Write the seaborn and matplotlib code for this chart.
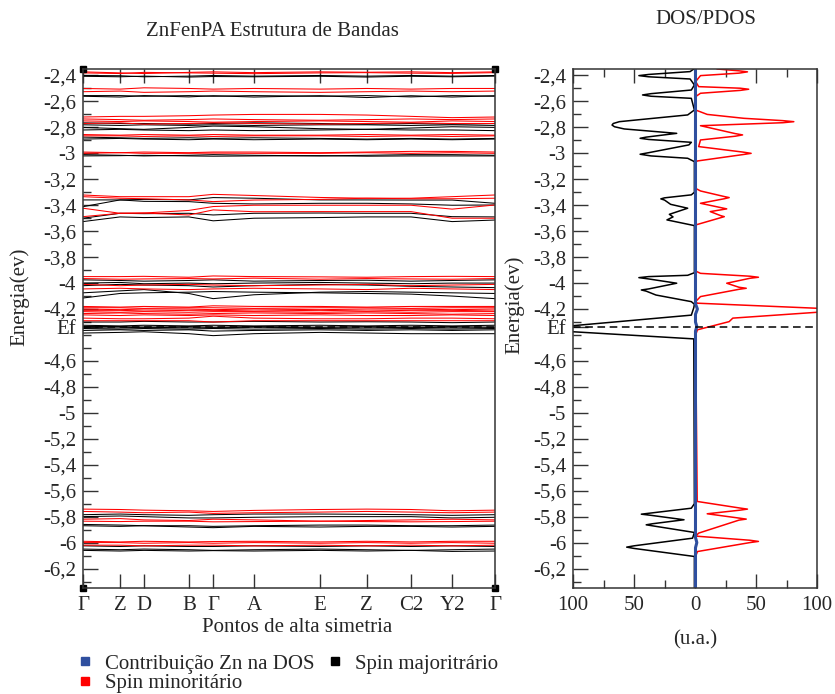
import matplotlib
matplotlib.use("Agg")
import matplotlib.pyplot as plt
from matplotlib.lines import Line2D
from matplotlib.ticker import FixedLocator, MultipleLocator
import pandas as pd
import seaborn as sns

# ---------------------------------------------------------------- data
K_LABELS = ["Γ", "Z", "D", "B", "Γ", "A", "E", "Z", "C2", "Y2", "Γ"]
K_POS = [0.0, 0.090, 0.148, 0.257, 0.316, 0.415, 0.575, 0.689, 0.796, 0.896, 1.0]
E_FERMI = -4.335

# band energies (eV) at the high-symmetry points; UP = spin majority, DN = spin minority
UP_BANDS_24 = [
    [-2.400, -2.402, -2.410, -2.405, -2.400, -2.405, -2.400, -2.405, -2.400, -2.405, -2.400],
    [-2.406, -2.410, -2.405, -2.412, -2.408, -2.410, -2.406, -2.412, -2.406, -2.410, -2.405],
    [-2.555, -2.555, -2.560, -2.555, -2.560, -2.555, -2.560, -2.555, -2.565, -2.555, -2.560],
    [-2.560, -2.566, -2.555, -2.565, -2.556, -2.566, -2.556, -2.570, -2.556, -2.566, -2.556],
]
DN_BANDS_24 = [
    [-2.372, -2.380, -2.385, -2.376, -2.372, -2.378, -2.372, -2.375, -2.372, -2.378, -2.372],
    [-2.380, -2.385, -2.376, -2.380, -2.382, -2.386, -2.380, -2.378, -2.382, -2.384, -2.378],
    [-2.500, -2.505, -2.495, -2.500, -2.505, -2.500, -2.505, -2.500, -2.505, -2.500, -2.500],
    [-2.525, -2.520, -2.530, -2.525, -2.520, -2.525, -2.530, -2.525, -2.520, -2.525, -2.520],
]
UP_BANDS_28 = [
    [-2.765, -2.770, -2.770, -2.775, -2.770, -2.765, -2.770, -2.775, -2.770, -2.775, -2.770],
    [-2.780, -2.785, -2.780, -2.785, -2.780, -2.785, -2.780, -2.780, -2.785, -2.780, -2.785],
    [-2.800, -2.810, -2.815, -2.800, -2.790, -2.795, -2.810, -2.815, -2.805, -2.795, -2.800],
    [-2.820, -2.815, -2.820, -2.825, -2.820, -2.825, -2.820, -2.815, -2.820, -2.820, -2.825],
    [-2.875, -2.880, -2.885, -2.880, -2.885, -2.880, -2.885, -2.890, -2.885, -2.890, -2.885],
    [-2.890, -2.885, -2.890, -2.895, -2.890, -2.895, -2.890, -2.895, -2.890, -2.895, -2.890],
    [-3.010, -3.015, -3.020, -3.015, -3.010, -3.015, -3.020, -3.015, -3.010, -3.010, -3.015],
    [-3.020, -3.018, -3.015, -3.020, -3.022, -3.020, -3.018, -3.022, -3.020, -3.020, -3.020],
]
DN_BANDS_28 = [
    [-2.720, -2.715, -2.715, -2.710, -2.705, -2.700, -2.700, -2.705, -2.715, -2.725, -2.720],
    [-2.735, -2.740, -2.745, -2.740, -2.735, -2.740, -2.745, -2.740, -2.735, -2.740, -2.735],
    [-2.750, -2.755, -2.750, -2.755, -2.760, -2.755, -2.750, -2.755, -2.760, -2.750, -2.755],
    [-2.770, -2.765, -2.775, -2.770, -2.765, -2.770, -2.775, -2.770, -2.765, -2.770, -2.770],
    [-2.855, -2.860, -2.855, -2.860, -2.855, -2.860, -2.860, -2.855, -2.860, -2.855, -2.860],
    [-2.865, -2.865, -2.870, -2.865, -2.870, -2.865, -2.865, -2.870, -2.865, -2.870, -2.865],
    [-2.990, -2.995, -2.990, -2.995, -2.990, -2.990, -2.995, -2.990, -2.985, -2.985, -2.990],
    [-3.000, -2.995, -3.000, -3.000, -2.998, -3.000, -3.000, -2.995, -3.000, -2.995, -3.000],
]
UP_BANDS_34 = [
    [-3.359, -3.359, -3.355, -3.359, -3.341, -3.346, -3.359, -3.359, -3.360, -3.360, -3.385],
    [-3.411, -3.359, -3.370, -3.372, -3.385, -3.390, -3.385, -3.385, -3.390, -3.400, -3.398],
    [-3.500, -3.462, -3.465, -3.462, -3.475, -3.462, -3.460, -3.462, -3.462, -3.488, -3.490],
    [-3.526, -3.490, -3.495, -3.490, -3.520, -3.500, -3.495, -3.490, -3.490, -3.526, -3.514],
]
DN_BANDS_34 = [
    [-3.321, -3.334, -3.334, -3.334, -3.316, -3.325, -3.340, -3.346, -3.346, -3.334, -3.321],
    [-3.334, -3.346, -3.350, -3.359, -3.372, -3.360, -3.355, -3.346, -3.350, -3.350, -3.346],
    [-3.423, -3.462, -3.460, -3.440, -3.410, -3.400, -3.400, -3.400, -3.400, -3.430, -3.398],
    [-3.488, -3.462, -3.460, -3.475, -3.436, -3.450, -3.449, -3.449, -3.449, -3.500, -3.500],
]
UP_BANDS_40 = [
    [-3.975, -3.980, -3.985, -3.980, -3.975, -3.985, -3.980, -3.978, -3.985, -3.980, -3.975],
    [-4.000, -3.995, -4.005, -4.000, -4.005, -4.000, -3.995, -4.000, -4.005, -4.000, -4.000],
    [-4.020, -4.010, -4.015, -4.020, -4.030, -4.020, -4.010, -4.015, -4.025, -4.030, -4.035],
    [-4.075, -4.060, -4.050, -4.080, -4.120, -4.090, -4.070, -4.065, -4.070, -4.075, -4.080],
    [-4.115, -4.080, -4.075, -4.070, -4.065, -4.070, -4.075, -4.080, -4.085, -4.100, -4.120],
]
DN_BANDS_40 = [
    [-3.950, -3.950, -3.948, -3.955, -3.945, -3.950, -3.952, -3.955, -3.950, -3.948, -3.950],
    [-3.965, -3.970, -3.968, -3.965, -3.968, -3.962, -3.970, -3.965, -3.968, -3.970, -3.965],
    [-4.010, -4.020, -4.015, -4.010, -4.015, -4.020, -4.015, -4.010, -4.020, -4.015, -4.010],
    [-4.045, -4.040, -4.045, -4.050, -4.045, -4.040, -4.045, -4.050, -4.040, -4.045, -4.050],
]
DN_BANDS_42 = [
    [-4.180, -4.185, -4.180, -4.185, -4.175, -4.180, -4.180, -4.185, -4.180, -4.180, -4.180],
    [-4.190, -4.190, -4.195, -4.190, -4.190, -4.195, -4.190, -4.190, -4.195, -4.190, -4.190],
    [-4.200, -4.205, -4.200, -4.200, -4.205, -4.200, -4.205, -4.200, -4.200, -4.205, -4.200],
    [-4.210, -4.210, -4.215, -4.210, -4.210, -4.215, -4.210, -4.215, -4.210, -4.210, -4.215],
    [-4.220, -4.225, -4.220, -4.225, -4.220, -4.220, -4.225, -4.220, -4.225, -4.220, -4.220],
    [-4.235, -4.230, -4.235, -4.240, -4.235, -4.230, -4.235, -4.230, -4.235, -4.240, -4.235],
    [-4.245, -4.250, -4.245, -4.250, -4.245, -4.250, -4.245, -4.250, -4.250, -4.245, -4.250],
    [-4.270, -4.275, -4.275, -4.270, -4.255, -4.270, -4.275, -4.275, -4.270, -4.270, -4.275],
    [-4.290, -4.290, -4.290, -4.290, -4.300, -4.290, -4.290, -4.290, -4.290, -4.290, -4.290],
]
UP_BANDS_EF = [
    [-4.300, -4.300, -4.295, -4.300, -4.300, -4.295, -4.300, -4.298, -4.300, -4.305, -4.300],
    [-4.325, -4.330, -4.325, -4.330, -4.325, -4.330, -4.325, -4.330, -4.325, -4.330, -4.325],
    [-4.335, -4.335, -4.340, -4.335, -4.340, -4.335, -4.340, -4.335, -4.340, -4.335, -4.340],
    [-4.345, -4.345, -4.340, -4.345, -4.345, -4.340, -4.345, -4.345, -4.340, -4.345, -4.345],
    [-4.350, -4.355, -4.350, -4.355, -4.350, -4.355, -4.350, -4.355, -4.350, -4.355, -4.350],
    [-4.365, -4.360, -4.365, -4.360, -4.370, -4.365, -4.360, -4.365, -4.360, -4.365, -4.360],
    [-4.385, -4.380, -4.375, -4.390, -4.405, -4.390, -4.380, -4.385, -4.390, -4.390, -4.390],
]
UP_BANDS_58 = [
    [-5.785, -5.780, -5.785, -5.790, -5.785, -5.780, -5.780, -5.782, -5.785, -5.790, -5.785],
    [-5.800, -5.795, -5.800, -5.810, -5.810, -5.805, -5.800, -5.800, -5.800, -5.810, -5.805],
    [-5.860, -5.865, -5.870, -5.870, -5.875, -5.870, -5.865, -5.865, -5.870, -5.870, -5.865],
    [-5.870, -5.875, -5.870, -5.880, -5.885, -5.875, -5.880, -5.875, -5.875, -5.880, -5.875],
]
DN_BANDS_58 = [
    [-5.742, -5.745, -5.750, -5.755, -5.760, -5.752, -5.745, -5.742, -5.745, -5.755, -5.750],
    [-5.760, -5.765, -5.770, -5.765, -5.775, -5.770, -5.765, -5.760, -5.765, -5.770, -5.765],
    [-5.820, -5.815, -5.825, -5.830, -5.820, -5.825, -5.835, -5.830, -5.825, -5.820, -5.825],
    [-5.835, -5.838, -5.835, -5.835, -5.840, -5.838, -5.835, -5.838, -5.840, -5.838, -5.835],
]
UP_BANDS_60 = [
    [-6.025, -6.030, -6.025, -6.030, -6.030, -6.025, -6.030, -6.025, -6.030, -6.025, -6.030],
    [-6.050, -6.055, -6.050, -6.055, -6.060, -6.055, -6.050, -6.055, -6.060, -6.055, -6.050],
    [-6.060, -6.065, -6.060, -6.065, -6.062, -6.065, -6.060, -6.065, -6.060, -6.068, -6.065],
]
DN_BANDS_60 = [
    [-5.990, -5.995, -5.990, -5.995, -5.992, -5.990, -5.995, -5.990, -5.995, -5.990, -5.990],
    [-6.000, -6.000, -6.005, -6.000, -6.005, -6.000, -6.005, -6.000, -6.005, -6.000, -6.005],
    [-6.020, -6.020, -6.025, -6.020, -6.020, -6.025, -6.020, -6.025, -6.020, -6.025, -6.020],
]

# density of states: (energy, states) vertices, spin majority drawn to the left
DOS_UP_E = [-2.35, -2.37, -2.392, -2.401, -2.41, -2.427, -2.473, -2.512, -2.54, -2.55,
            -2.56, -2.576, -2.666, -2.704, -2.74, -2.756, -2.77, -2.782, -2.795, -2.812,
            -2.846, -2.875, -2.884, -2.893, -2.915, -2.935, -2.995, -3.007, -3.02, -3.038,
            -3.064, -3.30, -3.32, -3.343, -3.351, -3.36, -3.393, -3.423, -3.47, -3.49,
            -3.513, -3.557, -3.92, -3.94, -3.95, -3.958, -3.968, -4.001, -4.045, -4.053,
            -4.062, -4.092, -4.143, -4.163, -4.19, -4.247, -4.33, -4.345, -4.374, -4.43,
            -5.70, -5.735, -5.772, -5.781, -5.79, -5.824, -5.855, -5.863, -5.872, -5.922,
            -5.966, -6.025, -6.035, -6.045, -6.107, -6.35]
DOS_UP_V = [1, 4, 38, 46, 38, 4, 0.5, 3, 36, 43,
            36, 3, 0.5, 6, 45, 62, 67, 68, 66, 58,
            15, 40, 45, 38, 3, 5, 38, 45, 36, 6,
            0.5, 0.5, 3, 25, 28, 25, 20, 6, 21, 18,
            23, 0.5, 0.5, 6, 38, 46, 38, 15, 38, 44,
            40, 32, 3, 0.5, 1, 3, 102, 125, 102, 1,
            0.5, 3, 36, 44, 36, 9, 35, 40, 34, 0.5,
            2, 50, 56, 50, 0.5, 0.5]
DOS_DN_E = [-2.35, -2.364, -2.372, -2.382, -2.401, -2.447, -2.486, -2.498, -2.506, -2.515,
            -2.537, -2.563, -2.666, -2.70, -2.73, -2.748, -2.756, -2.764, -2.787, -2.848,
            -2.858, -2.868, -2.897, -2.948, -2.99, -3.0, -3.01, -3.059, -3.07, -3.27,
            -3.29, -3.333, -3.341, -3.35, -3.385, -3.42, -3.428, -3.449, -3.48, -3.488,
            -3.552, -3.907, -3.925, -3.947, -3.955, -3.963, -4.001, -4.032, -4.04, -4.048,
            -4.104, -4.143, -4.155, -4.194, -4.205, -4.225, -4.27, -4.297, -4.36, -4.40,
            -5.683, -5.734, -5.742, -5.75, -5.778, -5.811, -5.819, -5.827, -5.927, -5.95,
            -5.982, -5.991, -6.0, -6.069, -6.107, -6.35]
DOS_DN_V = [18, 36, 43, 36, 4.5, 0.5, 3, 37, 44, 37,
            4.5, 0.5, 0.5, 10, 40, 72, 81, 72, 4.5, 33,
            39, 33, 4.5, 3, 39, 46, 39, 1.8, 0.5, 0.5,
            4.5, 24, 28, 24, 4.5, 22, 26, 12.5, 21, 24,
            0.5, 0.5, 4.5, 45, 52, 45, 26, 36, 42, 36,
            4.5, 0.5, 2, 100, 118, 100, 31, 28, 2, 0.5,
            1.8, 37, 43, 37, 10, 36, 42, 36, 3, 0.5,
            45, 52, 45, 2, 0.5, 0.5]
DOS_ZN_E = [-2.35, -4.16, -4.20, -4.24, -4.30, -4.335, -4.37, -5.96, -6.00, -6.04, -6.35]
DOS_ZN_V = [0.4, 0.4, 2.0, 0.4, 0.4, 1.5, 0.4, 0.4, 1.5, 0.4, 0.4]

Y_TICKS = [-2.4, -2.6, -2.8, -3.0, -3.2, -3.4, -3.6, -3.8, -4.0, -4.2,
           E_FERMI, -4.6, -4.8, -5.0, -5.2, -5.4, -5.6, -5.8, -6.0, -6.2]
DOS_TICKS = [-100, -50, 0, 50, 100]

# ---------------------------------------------------------------- style
sns.set_theme(style="ticks")
SERIF = ["Liberation Serif", "DejaVu Serif"]
plt.rcParams["font.family"] = SERIF
FS = 15
RED = "#ff0000"
BLUE = "#2f4f9f"
SPINE = "#333333"


def band_frame(groups, spin):
    rows = []
    n = 0
    for group in groups:
        for band in group:
            for k, e in zip(K_POS, band):
                rows.append({"k": k, "E": e, "band": f"{spin}{n}", "spin": spin})
            n += 1
    return rows


rows = band_frame([UP_BANDS_24, UP_BANDS_28, UP_BANDS_34, UP_BANDS_40,
                   UP_BANDS_EF, UP_BANDS_58, UP_BANDS_60], "up")
rows += band_frame([DN_BANDS_24, DN_BANDS_28, DN_BANDS_34, DN_BANDS_40,
                    DN_BANDS_42, DN_BANDS_58, DN_BANDS_60], "dn")
bands = pd.DataFrame(rows)


def e_label(v):
    if v == E_FERMI:
        return "Ef"
    return f"{v:g}".replace(".", ",")


fig = plt.figure(figsize=(8.35, 6.94), dpi=100)
W, H = 835, 694
ax1 = fig.add_axes([83 / W, 1 - 588 / H, 412 / W, 519 / H])
ax2 = fig.add_axes([573 / W, 1 - 588 / H, 244 / W, 519 / H])

# ---------------------------------------------------------------- band structure
sns.lineplot(data=bands, x="k", y="E", hue="spin", units="band", estimator=None,
             sort=False, palette={"up": "black", "dn": RED}, lw=0.75,
             legend=False, ax=ax1)
ax1.axhline(E_FERMI, color="black", lw=1.1, ls=(0, (5, 3)))
ax1.set_xlim(0, 1)
ax1.set_ylim(-6.35, -2.35)
ax1.xaxis.set_major_locator(FixedLocator(K_POS))
ax1.set_xticklabels(K_LABELS, fontsize=FS)
ax1.tick_params(axis="x", direction="in", length=10, width=1, top=True,
                bottom=True, pad=6, color=SPINE)
ax1.plot([0, 1, 0, 1], [0, 0, 1, 1], "s", color="black", ms=5,
         transform=ax1.transAxes, clip_on=False)

# ---------------------------------------------------------------- DOS
sns.lineplot(x=[-v for v in DOS_UP_V], y=DOS_UP_E, sort=False, orient="y",
             estimator=None, color="black", lw=1.1, ax=ax2)
sns.lineplot(x=DOS_DN_V, y=DOS_DN_E, sort=False, orient="y",
             estimator=None, color=RED, lw=1.1, ax=ax2)
sns.lineplot(x=DOS_ZN_V, y=DOS_ZN_E, sort=False, orient="y",
             estimator=None, color=BLUE, lw=2.2, ax=ax2)
ax2.axhline(E_FERMI, color="black", lw=1.1, ls=(0, (5, 3)))
ax2.set_xlim(-100, 100)
ax2.set_ylim(-6.35, -2.35)
ax2.xaxis.set_major_locator(FixedLocator(DOS_TICKS))
ax2.xaxis.set_minor_locator(FixedLocator([-75, -25, 25, 75]))
ax2.set_xticklabels([f"{abs(t)}" for t in DOS_TICKS], fontsize=FS)
ax2.tick_params(axis="x", which="major", direction="in", length=10, width=1,
                top=True, bottom=True, pad=6, color=SPINE)
ax2.tick_params(axis="x", which="minor", direction="in", length=5.5, width=1,
                top=True, bottom=True, color=SPINE)

for ax in (ax1, ax2):
    ax.set_xlabel("")
    ax.set_ylabel("")
    ax.yaxis.set_major_locator(FixedLocator(Y_TICKS))
    ax.yaxis.set_minor_locator(MultipleLocator(0.1))
    ax.set_yticklabels([e_label(v) for v in Y_TICKS], fontsize=FS)
    ax.tick_params(axis="y", which="major", direction="in", length=11, width=1,
                   left=True, right=False, pad=5, color=SPINE)
    ax.tick_params(axis="y", which="minor", direction="in", length=5.5, width=1,
                   left=True, right=False, color=SPINE)
    for sp in ax.spines.values():
        sp.set_color(SPINE)
        sp.set_linewidth(1.1)

# ---------------------------------------------------------------- text
fig.text(272 / W, 1 - 31 / H, "ZnFenPA Estrutura de Bandas", ha="center",
         va="center", fontsize=FS)
fig.text(706 / W, 1 - 20 / H, "DOS/PDOS", ha="center", va="center", fontsize=FS)
fig.text(20 / W, 1 - 297 / H, "Energia(ev)", rotation=90, ha="center",
         va="center", fontsize=FS)
fig.text(515 / W, 1 - 305 / H, "Energia(ev)", rotation=90, ha="center",
         va="center", fontsize=FS)
fig.text(297 / W, 1 - 628 / H, "Pontos de alta simetria", ha="center",
         va="center", fontsize=FS)
fig.text(695 / W, 1 - 640 / H, "(u.a.)", ha="center", va="center", fontsize=FS)

handles = [
    Line2D([], [], ls="", marker="s", ms=5.5, color=BLUE, label="Contribuição Zn na DOS"),
    Line2D([], [], ls="", marker="s", ms=5.5, color=RED, label="Spin minoritário"),
    Line2D([], [], ls="", marker="s", ms=5.5, color="black", label="Spin majoritrário"),
]
fig.legend(handles=handles, ncol=2, loc="upper left",
           bbox_to_anchor=(77 / W, 1 - 654 / H), frameon=False,
           prop={"family": SERIF, "size": FS},
           handlelength=0.8, handletextpad=0.55, labelspacing=0.0,
           columnspacing=0.6, borderpad=0, borderaxespad=0)

fig.savefig("out.png", dpi=100)
